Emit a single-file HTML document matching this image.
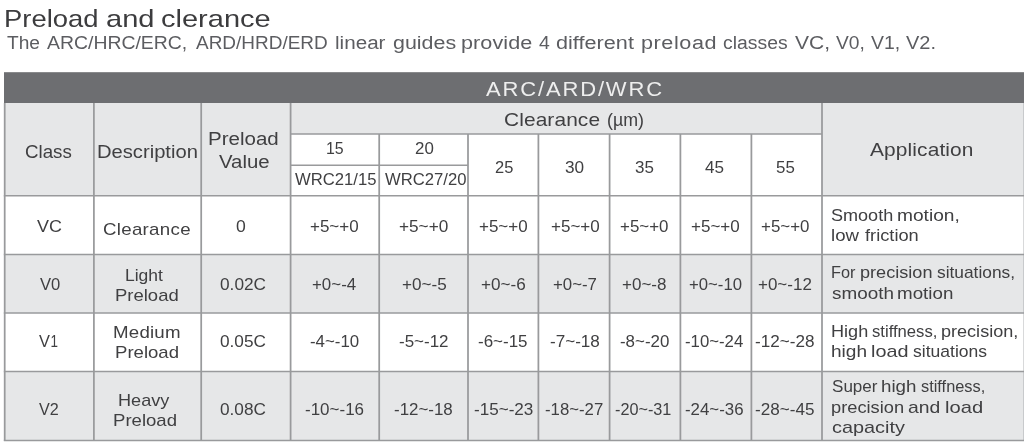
<!DOCTYPE html>
<html><head><meta charset="utf-8"><title>Preload and clearance</title>
<style>
html,body{margin:0;padding:0;background:#fff;}
body{width:1024px;height:442px;position:relative;overflow:hidden;font-family:"Liberation Sans",sans-serif;color:#3a3a3c;}
svg.g{position:absolute;left:0;top:0;}
.t{position:absolute;white-space:nowrap;line-height:1;transform-origin:0 0;}
</style></head><body>
<svg class="g" width="1024" height="442" viewBox="0 0 1024 442">
<rect x="4" y="72.2" width="1020" height="30.8" fill="#6d6e71"/>
<rect x="4.7" y="103" width="285.9" height="92.8" fill="#e6e7e8"/>
<rect x="290.6" y="103" width="531.4" height="31" fill="#e6e7e8"/>
<rect x="822" y="103" width="202" height="92.8" fill="#e6e7e8"/>
<rect x="4.7" y="254.5" width="1019.3" height="58.4" fill="#e6e7e8"/>
<rect x="4.7" y="371.4" width="1019.3" height="69.1" fill="#e6e7e8"/>
<g stroke="#999a9c" stroke-width="1.75" fill="none">
<path d="M4.7 103V440.8"/>
<path d="M93.9 103V440.8"/>
<path d="M201.2 103V440.8"/>
<path d="M290.6 103V440.8"/>
<path d="M822 103V440.8"/>
<path d="M1024.5 103V440.8"/>
<path d="M379.2 134V440.8"/>
<path d="M468 134V440.8"/>
<path d="M538.4 134V440.8"/>
<path d="M609.6 134V440.8"/>
<path d="M680.4 134V440.8"/>
<path d="M751.4 134V440.8"/>
<path stroke-width="1.5" d="M290.6 134H822"/>
<path stroke-width="1.5" d="M290.6 165.2H468"/>
<path stroke-width="1.5" d="M3.825 195.8H1024"/>
<path stroke-width="1.5" d="M3.825 254.5H1024"/>
<path stroke-width="1.5" d="M3.825 312.9H1024"/>
<path stroke-width="1.5" d="M3.825 371.4H1024"/>
<path stroke-width="1.5" d="M3.825 440.5H1024"/>
</g></svg>
<div id="txt" style="position:absolute;left:0;top:0;width:1024px;height:442px;filter:blur(0.55px)">
<span class="t" style="left:3.76px;top:7.00px;font-size:24.6px;color:#3c3c3e;transform:scaleX(1.1143);">Preload</span>
<span class="t" style="left:105.99px;top:7.00px;font-size:24.6px;color:#3c3c3e;transform:scaleX(1.1827);">and</span>
<span class="t" style="left:161.09px;top:7.00px;font-size:24.6px;color:#3c3c3e;transform:scaleX(1.1796);">clerance</span>
<span class="t" style="left:7.00px;top:34.00px;font-size:18px;color:#5c5d61;transform:scaleX(1.0631);">The</span>
<span class="t" style="left:46.50px;top:34.00px;font-size:18px;color:#5c5d61;transform:scaleX(1.0788);">ARC/HRC/ERC,</span>
<span class="t" style="left:195.90px;top:34.00px;font-size:18px;color:#5c5d61;transform:scaleX(1.0540);">ARD/HRD/ERD</span>
<span class="t" style="left:335.31px;top:34.00px;font-size:18px;color:#5c5d61;transform:scaleX(1.1469);">linear</span>
<span class="t" style="left:393.03px;top:34.00px;font-size:18px;color:#5c5d61;transform:scaleX(1.1904);">guides</span>
<span class="t" style="left:461.45px;top:34.00px;font-size:18px;color:#5c5d61;transform:scaleX(1.2000);letter-spacing:0.053px;">provide</span>
<span class="t" style="left:538.80px;top:34.00px;font-size:18px;color:#5c5d61;transform:scaleX(1.0774);">4</span>
<span class="t" style="left:555.73px;top:34.00px;font-size:18px;color:#5c5d61;transform:scaleX(1.2000);letter-spacing:0.025px;">different</span>
<span class="t" style="left:641.25px;top:34.00px;font-size:18px;color:#5c5d61;transform:scaleX(1.2000);letter-spacing:0.487px;">preload</span>
<span class="t" style="left:722.99px;top:34.00px;font-size:18px;color:#5c5d61;transform:scaleX(1.0765);">classes</span>
<span class="t" style="left:794.60px;top:34.00px;font-size:18px;color:#5c5d61;transform:scaleX(1.1688);">VC,</span>
<span class="t" style="left:835.60px;top:34.00px;font-size:18px;color:#5c5d61;transform:scaleX(1.0673);">V0,</span>
<span class="t" style="left:871.00px;top:34.00px;font-size:18px;color:#5c5d61;transform:scaleX(1.0790);">V1,</span>
<span class="t" style="left:906.20px;top:34.00px;font-size:18px;color:#5c5d61;transform:scaleX(1.1106);">V2.</span>
<span class="t" style="left:485.80px;top:79.00px;font-size:20px;color:#eeeeee;transform:scaleX(1.1000);letter-spacing:1.673px;">ARC/ARD/WRC</span>
<span class="t" style="left:503.52px;top:110.00px;font-size:19px;color:#404042;transform:scaleX(1.1000);letter-spacing:0.087px;">Clearance</span>
<span class="t" style="left:606.77px;top:110.00px;font-size:19px;color:#404042;transform:scaleX(0.9373);">(µm)</span>
<span class="t" style="left:24.92px;top:143.00px;font-size:18.9px;color:#404042;transform:scaleX(0.9916);">Class</span>
<span class="t" style="left:97.42px;top:143.00px;font-size:18.9px;color:#404042;transform:scaleX(1.0674);">Description</span>
<span class="t" style="left:208.20px;top:130.00px;font-size:18.9px;color:#404042;transform:scaleX(1.0862);">Preload</span>
<span class="t" style="left:219.20px;top:153.00px;font-size:18.9px;color:#404042;transform:scaleX(1.0786);">Value</span>
<span class="t" style="left:869.90px;top:140.00px;font-size:19px;color:#404042;transform:scaleX(1.1000);letter-spacing:0.112px;">Application</span>
<span class="t" style="left:325.90px;top:141.00px;font-size:16.8px;color:#404042;transform:scaleX(0.9495);">15</span>
<span class="t" style="left:415.41px;top:141.00px;font-size:16.8px;color:#404042;transform:scaleX(1.0068);">20</span>
<span class="t" style="left:295.20px;top:172.00px;font-size:16.8px;color:#404042;transform:scaleX(0.9929);">WRC21/15</span>
<span class="t" style="left:384.60px;top:172.00px;font-size:16.8px;color:#404042;transform:scaleX(0.9933);">WRC27/20</span>
<span class="t" style="left:494.63px;top:160.00px;font-size:16.8px;color:#404042;transform:scaleX(0.9815);">25</span>
<span class="t" style="left:565.46px;top:160.00px;font-size:16.8px;color:#404042;transform:scaleX(1.0257);">30</span>
<span class="t" style="left:634.77px;top:160.00px;font-size:16.8px;color:#404042;transform:scaleX(1.0125);">35</span>
<span class="t" style="left:705.23px;top:160.00px;font-size:16.8px;color:#404042;transform:scaleX(1.0201);">45</span>
<span class="t" style="left:775.67px;top:160.00px;font-size:16.8px;color:#404042;transform:scaleX(1.0068);">55</span>
<span class="t" style="left:36.60px;top:218.00px;font-size:17px;color:#404042;transform:scaleX(1.0553);">VC</span>
<span class="t" style="left:103.12px;top:221.00px;font-size:17px;color:#404042;transform:scaleX(1.1000);letter-spacing:0.261px;">Clearance</span>
<span class="t" style="left:235.65px;top:218.00px;font-size:17px;color:#404042;transform:scaleX(1.0353);">0</span>
<span class="t" style="left:39.60px;top:276.00px;font-size:17px;color:#404042;transform:scaleX(0.9769);">V0</span>
<span class="t" style="left:125.23px;top:267.00px;font-size:17px;color:#404042;transform:scaleX(1.0283);">Light</span>
<span class="t" style="left:115.16px;top:287.00px;font-size:17px;color:#404042;transform:scaleX(1.0868);">Preload</span>
<span class="t" style="left:219.76px;top:276.00px;font-size:17px;color:#404042;transform:scaleX(1.0148);">0.02C</span>
<span class="t" style="left:38.70px;top:333.00px;font-size:17px;color:#404042;transform:scaleX(0.9631);">V<span style="display:inline-block;transform-origin:0 0;transform:scaleX(0.822);margin-left:0.46px">1</span></span>
<span class="t" style="left:113.44px;top:324.00px;font-size:17px;color:#404042;transform:scaleX(1.1000);letter-spacing:0.185px;">Medium</span>
<span class="t" style="left:114.95px;top:344.00px;font-size:17px;color:#404042;transform:scaleX(1.0921);">Preload</span>
<span class="t" style="left:219.76px;top:333.00px;font-size:17px;color:#404042;transform:scaleX(1.0126);">0.05C</span>
<span class="t" style="left:39.40px;top:401.00px;font-size:17px;color:#404042;transform:scaleX(0.9500);">V2</span>
<span class="t" style="left:117.99px;top:392.00px;font-size:17px;color:#404042;transform:scaleX(1.0649);">Heavy</span>
<span class="t" style="left:112.55px;top:412.00px;font-size:17px;color:#404042;transform:scaleX(1.0921);">Preload</span>
<span class="t" style="left:219.76px;top:401.00px;font-size:17px;color:#404042;transform:scaleX(1.0126);">0.08C</span>
<span class="t" style="left:310.20px;top:219.00px;font-size:16.8px;color:#404042;transform:scaleX(1.0125);">+5~+0</span>
<span class="t" style="left:398.79px;top:219.00px;font-size:16.8px;color:#404042;transform:scaleX(1.0253);">+5~+0</span>
<span class="t" style="left:479.40px;top:219.00px;font-size:16.8px;color:#404042;transform:scaleX(1.0125);">+5~+0</span>
<span class="t" style="left:551.20px;top:219.00px;font-size:16.8px;color:#404042;transform:scaleX(1.0146);">+5~+0</span>
<span class="t" style="left:620.01px;top:219.00px;font-size:16.8px;color:#404042;transform:scaleX(1.0082);">+5~+0</span>
<span class="t" style="left:690.50px;top:219.00px;font-size:16.8px;color:#404042;transform:scaleX(1.0146);">+5~+0</span>
<span class="t" style="left:760.81px;top:219.00px;font-size:16.8px;color:#404042;transform:scaleX(1.0082);">+5~+0</span>
<span class="t" style="left:311.91px;top:277.00px;font-size:16.8px;color:#404042;transform:scaleX(1.0071);">+0~-4</span>
<span class="t" style="left:401.60px;top:277.00px;font-size:16.8px;color:#404042;transform:scaleX(1.0204);">+0~-5</span>
<span class="t" style="left:481.40px;top:277.00px;font-size:16.8px;color:#404042;transform:scaleX(1.0204);">+0~-6</span>
<span class="t" style="left:552.61px;top:277.00px;font-size:16.8px;color:#404042;transform:scaleX(1.0015);">+0~-7</span>
<span class="t" style="left:622.00px;top:277.00px;font-size:16.8px;color:#404042;transform:scaleX(1.0133);">+0~-8</span>
<span class="t" style="left:688.51px;top:277.00px;font-size:16.8px;color:#404042;transform:scaleX(0.9973);">+0~-10</span>
<span class="t" style="left:757.90px;top:277.00px;font-size:16.8px;color:#404042;transform:scaleX(1.0120);">+0~-12</span>
<span class="t" style="left:309.87px;top:334.00px;font-size:16.8px;color:#404042;transform:scaleX(1.0044);">-4~-10</span>
<span class="t" style="left:398.77px;top:334.00px;font-size:16.8px;color:#404042;transform:scaleX(1.0120);">-5~-12</span>
<span class="t" style="left:478.47px;top:334.00px;font-size:16.8px;color:#404042;transform:scaleX(1.0120);">-6~-15</span>
<span class="t" style="left:549.97px;top:334.00px;font-size:16.8px;color:#404042;transform:scaleX(1.0183);">-7~-18</span>
<span class="t" style="left:619.57px;top:334.00px;font-size:16.8px;color:#404042;transform:scaleX(1.0065);">-8~-20</span>
<span class="t" style="left:685.28px;top:334.00px;font-size:16.8px;color:#404042;transform:scaleX(0.9995);">-10~-24</span>
<span class="t" style="left:755.46px;top:334.00px;font-size:16.8px;color:#404042;transform:scaleX(1.0198);">-12~-28</span>
<span class="t" style="left:304.77px;top:402.00px;font-size:16.8px;color:#404042;transform:scaleX(1.0128);">-10~-16</span>
<span class="t" style="left:394.07px;top:402.00px;font-size:16.8px;color:#404042;transform:scaleX(1.0076);">-12~-18</span>
<span class="t" style="left:474.07px;top:402.00px;font-size:16.8px;color:#404042;transform:scaleX(1.0181);">-15~-23</span>
<span class="t" style="left:545.48px;top:402.00px;font-size:16.8px;color:#404042;transform:scaleX(0.9988);">-18~-27</span>
<span class="t" style="left:615.09px;top:402.00px;font-size:16.8px;color:#404042;transform:scaleX(0.9673);">-20~-31</span>
<span class="t" style="left:685.27px;top:402.00px;font-size:16.8px;color:#404042;transform:scaleX(1.0041);">-24~-36</span>
<span class="t" style="left:755.46px;top:402.00px;font-size:16.8px;color:#404042;transform:scaleX(1.0198);">-28~-45</span>
<span class="t" style="left:831.24px;top:207.00px;font-size:17px;color:#404042;transform:scaleX(1.0613);">Smooth</span>
<span class="t" style="left:897.00px;top:207.00px;font-size:17px;color:#404042;transform:scaleX(1.1270);">motion,</span>
<span class="t" style="left:831.04px;top:227.00px;font-size:17px;color:#404042;transform:scaleX(1.0952);">low</span>
<span class="t" style="left:865.40px;top:227.00px;font-size:17px;color:#404042;transform:scaleX(1.0730);">friction</span>
<span class="t" style="left:830.93px;top:264.00px;font-size:17px;color:#404042;transform:scaleX(0.9589);">For</span>
<span class="t" style="left:859.97px;top:264.00px;font-size:17px;color:#404042;transform:scaleX(1.0649);">precision</span>
<span class="t" style="left:937.03px;top:264.00px;font-size:17px;color:#404042;transform:scaleX(1.0199);">situations,</span>
<span class="t" style="left:831.50px;top:285.00px;font-size:17px;color:#404042;transform:scaleX(1.1114);">smooth</span>
<span class="t" style="left:896.63px;top:285.00px;font-size:17px;color:#404042;transform:scaleX(1.1039);">motion</span>
<span class="t" style="left:830.79px;top:323.00px;font-size:17px;color:#404042;transform:scaleX(1.0649);">High</span>
<span class="t" style="left:872.14px;top:323.00px;font-size:17px;color:#404042;transform:scaleX(0.9795);">stiffness,</span>
<span class="t" style="left:941.07px;top:323.00px;font-size:17px;color:#404042;transform:scaleX(1.0621);">precision,</span>
<span class="t" style="left:831.01px;top:343.00px;font-size:17px;color:#404042;transform:scaleX(1.1220);">high</span>
<span class="t" style="left:870.66px;top:343.00px;font-size:17px;color:#404042;transform:scaleX(1.1652);">load</span>
<span class="t" style="left:912.63px;top:343.00px;font-size:17px;color:#404042;transform:scaleX(1.0307);">situations</span>
<span class="t" style="left:831.67px;top:378.00px;font-size:17px;color:#404042;transform:scaleX(1.0034);">Super</span>
<span class="t" style="left:881.43px;top:378.00px;font-size:17px;color:#404042;transform:scaleX(1.1021);">high</span>
<span class="t" style="left:921.44px;top:378.00px;font-size:17px;color:#404042;transform:scaleX(0.9627);">stiffness,</span>
<span class="t" style="left:831.06px;top:399.00px;font-size:17px;color:#404042;transform:scaleX(1.0740);">precision</span>
<span class="t" style="left:908.40px;top:399.00px;font-size:17px;color:#404042;transform:scaleX(1.1385);">and</span>
<span class="t" style="left:944.84px;top:399.00px;font-size:17px;color:#404042;transform:scaleX(1.1851);">load</span>
<span class="t" style="left:831.58px;top:419.00px;font-size:17px;color:#404042;transform:scaleX(1.1693);">capacity</span>
</div></body></html>
